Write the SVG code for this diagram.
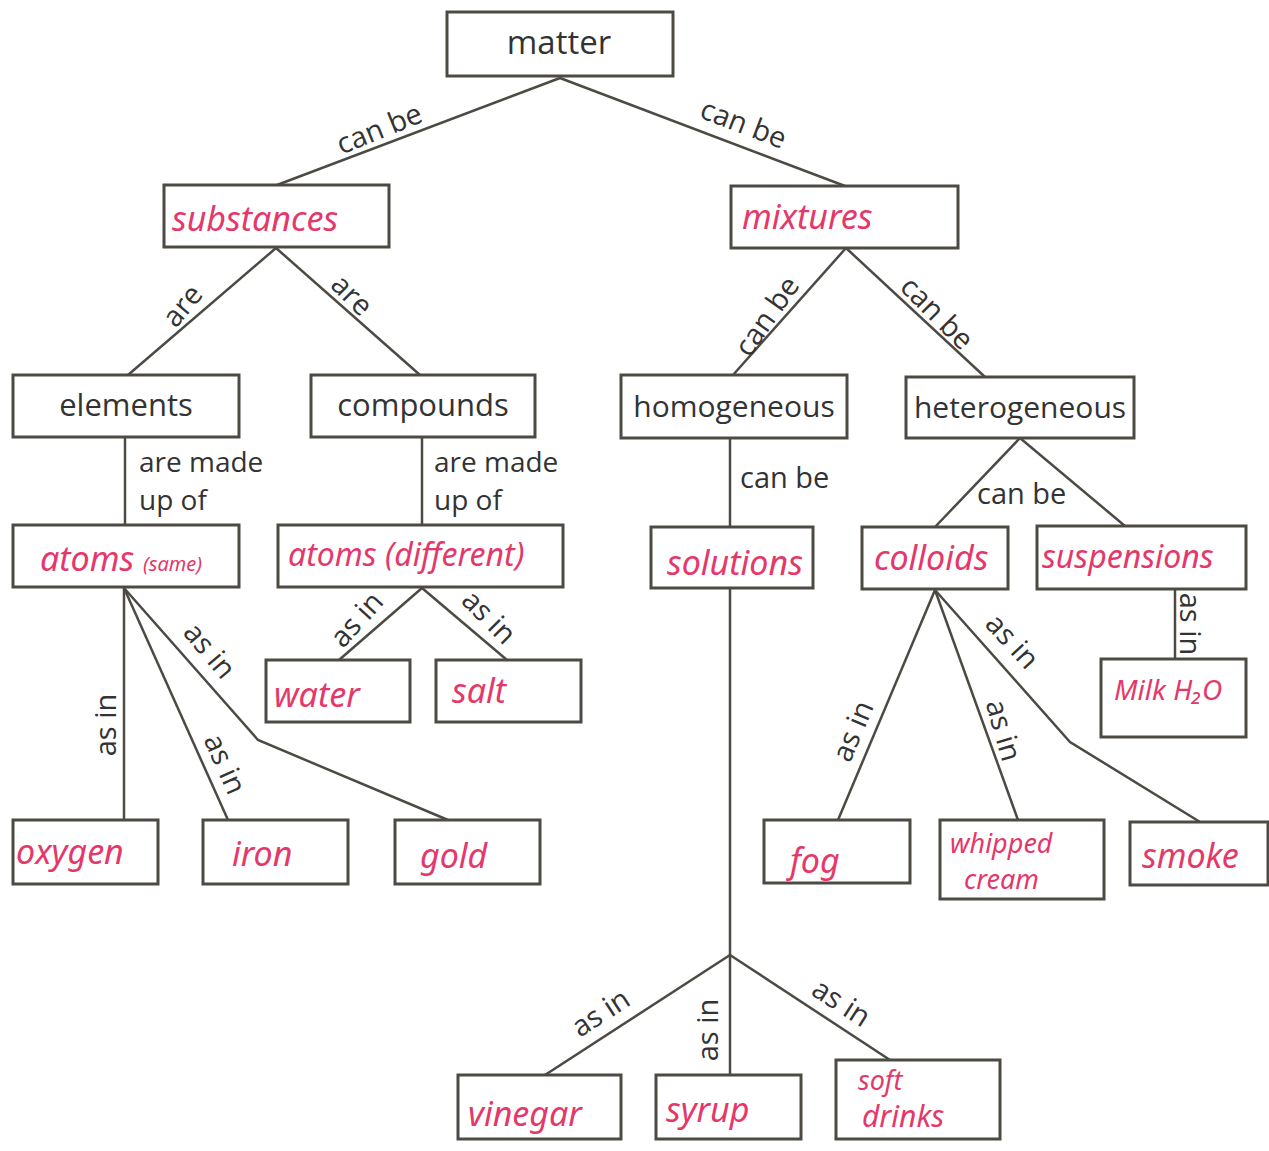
<svg xmlns="http://www.w3.org/2000/svg" width="1269" height="1151" viewBox="0 0 1269 1151">
<style>
.b{fill:#fff;stroke:#4d4a44;stroke-width:3}
.t{font-family:"Open Sans","Noto Sans",sans-serif;font-size:31px;fill:#333;text-anchor:middle}
.h{font-family:"Noto Sans","DejaVu Sans",sans-serif;font-size:34px;fill:#e5386a;font-style:italic}
.l{font-family:"Open Sans","Noto Sans",sans-serif;font-size:29px;fill:#333}
.m{font-family:"Open Sans","Noto Sans",sans-serif;font-size:28px;fill:#333}
.c line,.c polyline{stroke:#4d4a44;stroke-width:2.5;fill:none}
</style>
<rect width="1269" height="1151" fill="#fff"/>
<g class="c" id="connectors">
<line x1="560" y1="78" x2="277" y2="185"/>
<line x1="560" y1="78" x2="845" y2="186"/>
<line x1="276" y1="248" x2="128" y2="375"/>
<line x1="276" y1="248" x2="420" y2="375"/>
<line x1="846" y1="248" x2="733" y2="375"/>
<line x1="846" y1="248" x2="985" y2="377"/>
<line x1="125" y1="437" x2="125" y2="525"/>
<line x1="422" y1="437" x2="422" y2="525"/>
<line x1="730" y1="438" x2="730" y2="527"/>
<line x1="1020" y1="438" x2="935" y2="527"/>
<line x1="1020" y1="438" x2="1125" y2="526"/>
<line x1="124" y1="588" x2="124" y2="820"/>
<line x1="124" y1="588" x2="228" y2="820"/>
<polyline points="124,588 258,740 448,820"/>
<line x1="422" y1="588" x2="339" y2="660"/>
<line x1="422" y1="588" x2="507" y2="660"/>
<line x1="730" y1="588" x2="730" y2="955"/>
<line x1="730" y1="955" x2="545" y2="1075"/>
<line x1="730" y1="955" x2="730" y2="1075"/>
<line x1="730" y1="955" x2="890" y2="1060"/>
<line x1="935" y1="590" x2="838" y2="820"/>
<line x1="935" y1="590" x2="1018" y2="820"/>
<polyline points="935,590 1070,742 1200,822"/>
<line x1="1175" y1="589" x2="1175" y2="659"/>
<text class="l" transform="translate(383,138) rotate(-22)" text-anchor="middle">can be</text>
<text class="l" transform="translate(740,133) rotate(21)" text-anchor="middle">can be</text>
<text class="l" transform="translate(190,312) rotate(-50)" text-anchor="middle">are</text>
<text class="l" transform="translate(345,302) rotate(45)" text-anchor="middle">are</text>
<text class="l" transform="translate(775,322) rotate(-55)" text-anchor="middle">can be</text>
<text class="l" transform="translate(930,320) rotate(45)" text-anchor="middle">can be</text>
<text class="m" x="139" y="472">are made</text>
<text class="m" x="139" y="510">up of</text>
<text class="m" x="434" y="472">are made</text>
<text class="m" x="434" y="510">up of</text>
<text class="l" x="740" y="488">can be</text>
<text class="l" x="977" y="504">can be</text>
<text class="l" transform="translate(116,725) rotate(-90)" text-anchor="middle">as in</text>
<text class="l" transform="translate(216,768) rotate(66)" text-anchor="middle">as in</text>
<text class="l" transform="translate(202,657) rotate(50)" text-anchor="middle">as in</text>
<text class="l" transform="translate(364,626) rotate(-48)" text-anchor="middle">as in</text>
<text class="l" transform="translate(482,624) rotate(45)" text-anchor="middle">as in</text>
<text class="l" transform="translate(606,1021) rotate(-33)" text-anchor="middle">as in</text>
<text class="l" transform="translate(718,1030) rotate(-90)" text-anchor="middle">as in</text>
<text class="l" transform="translate(836,1011) rotate(33)" text-anchor="middle">as in</text>
<text class="l" transform="translate(862,735) rotate(-67)" text-anchor="middle">as in</text>
<text class="l" transform="translate(994,733) rotate(74)" text-anchor="middle">as in</text>
<text class="l" transform="translate(1005,648) rotate(47)" text-anchor="middle">as in</text>
<text class="l" transform="translate(1180,624) rotate(90)" text-anchor="middle">as in</text>
</g>
<g id="matter"><rect class="b" x="447" y="12" width="226" height="64"/><text class="t" x="559" y="54" style="font-size:33px">matter</text></g>
<g id="substances"><rect class="b" x="164" y="185" width="225" height="62"/><text class="h" x="172" y="231">substances</text></g>
<g id="mixtures"><rect class="b" x="731" y="186" width="227" height="62"/><text class="h" x="742" y="229">mixtures</text></g>
<g id="elements"><rect class="b" x="13" y="375" width="226" height="62"/><text class="t" x="126" y="416">elements</text></g>
<g id="compounds"><rect class="b" x="311" y="375" width="224" height="62"/><text class="t" x="423" y="416">compounds</text></g>
<g id="homogeneous"><rect class="b" x="621" y="375" width="226" height="63"/><text class="t" x="734" y="417" style="font-size:30px">homogeneous</text></g>
<g id="heterogeneous"><rect class="b" x="906" y="377" width="228" height="61"/><text class="t" x="1020" y="418" style="font-size:30px">heterogeneous</text></g>
<g id="atoms-same"><rect class="b" x="13" y="525" width="226" height="62"/><text class="h" x="40" y="571">atoms <tspan style="font-size:20px">(same)</tspan></text></g>
<g id="atoms-different"><rect class="b" x="278" y="525" width="285" height="62"/><text class="h" x="288" y="566" style="font-size:32px">atoms (different)</text></g>
<g id="solutions"><rect class="b" x="651" y="527" width="162" height="61"/><text class="h" x="667" y="575">solutions</text></g>
<g id="colloids"><rect class="b" x="862" y="527" width="146" height="62"/><text class="h" x="874" y="570">colloids</text></g>
<g id="suspensions"><rect class="b" x="1037" y="526" width="209" height="63"/><text class="h" x="1042" y="568" style="font-size:32px">suspensions</text></g>
<g id="water"><rect class="b" x="266" y="660" width="144" height="62"/><text class="h" x="274" y="707">water</text></g>
<g id="salt"><rect class="b" x="436" y="660" width="145" height="62"/><text class="h" x="452" y="703">salt</text></g>
<g id="milk"><rect class="b" x="1101" y="659" width="145" height="78"/><text class="h" x="1114" y="700" style="font-size:28px">Milk H₂O</text></g>
<g id="oxygen"><rect class="b" x="13" y="820" width="145" height="64"/><text class="h" x="16" y="864">oxygen</text></g>
<g id="iron"><rect class="b" x="203" y="820" width="145" height="64"/><text class="h" x="232" y="866">iron</text></g>
<g id="gold"><rect class="b" x="395" y="820" width="145" height="64"/><text class="h" x="420" y="868">gold</text></g>
<g id="fog"><rect class="b" x="764" y="820" width="146" height="63"/><text class="h" x="790" y="873">fog</text></g>
<g id="whipped-cream"><rect class="b" x="940" y="820" width="164" height="79"/><text class="h" x="950" y="853" style="font-size:27px">whipped</text><text class="h" x="964" y="889" style="font-size:27px">cream</text></g>
<g id="smoke"><rect class="b" x="1130" y="822" width="138" height="63"/><text class="h" x="1142" y="868">smoke</text></g>
<g id="vinegar"><rect class="b" x="458" y="1075" width="163" height="64"/><text class="h" x="468" y="1126">vinegar</text></g>
<g id="syrup"><rect class="b" x="656" y="1075" width="145" height="64"/><text class="h" x="666" y="1122">syrup</text></g>
<g id="soft-drinks"><rect class="b" x="836" y="1060" width="164" height="79"/><text class="h" x="858" y="1090" style="font-size:27px">soft</text><text class="h" x="862" y="1127" style="font-size:30px">drinks</text></g>
</svg>
